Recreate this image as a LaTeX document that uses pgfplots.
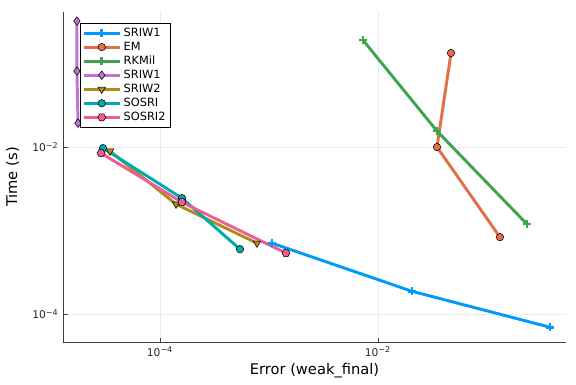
\documentclass[border=0pt]{standalone}
\usepackage{fontspec}
\setmainfont{DejaVu Sans}
\usepackage{pgfplots}
\pgfplotsset{compat=1.18}
\usetikzlibrary{plotmarks}
\definecolor{c1}{HTML}{009AFA}
\definecolor{c2}{HTML}{E36F47}
\definecolor{c3}{HTML}{3EA44E}
\definecolor{c4}{HTML}{C371D2}
\definecolor{c5}{HTML}{AC8E18}
\definecolor{c6}{HTML}{00AAAE}
\definecolor{c7}{HTML}{ED5E93}
\pgfdeclareplotmark{hexagon*}{%
  \pgfpathmoveto{\pgfqpointpolar{0}{\pgfplotmarksize}}%
  \pgfpathlineto{\pgfqpointpolar{60}{\pgfplotmarksize}}%
  \pgfpathlineto{\pgfqpointpolar{120}{\pgfplotmarksize}}%
  \pgfpathlineto{\pgfqpointpolar{180}{\pgfplotmarksize}}%
  \pgfpathlineto{\pgfqpointpolar{240}{\pgfplotmarksize}}%
  \pgfpathlineto{\pgfqpointpolar{300}{\pgfplotmarksize}}%
  \pgfpathclose
  \pgfusepathqfillstroke}
\begin{document}
\begin{tikzpicture}
\begin{axis}[
  name=ax,
  scale only axis,
  width=377pt, height=247.5pt,
  xmode=log, ymode=log,
  xmin=1.29e-5, xmax=0.531,
  ymin=4.62e-5, ymax=0.414,
  axis x line*=bottom, axis y line*=left,
  axis line style={line width=0.6pt, black!75},
  xtick={1e-4,1e-2}, ytick={1e-4,1e-2},
  xticklabels={10\textsuperscript{−4},10\textsuperscript{−2}},
  yticklabels={10\textsuperscript{−4},10\textsuperscript{−2}},
  minor tick num=0,
  minor xtick={}, minor ytick={},
  tick style={black!75, line width=0.5pt},
  major tick length=3.5pt,
  tick label style={font=\fontsize{8}{9}\selectfont, black!85},
  grid=major,
  major grid style={black!8, line width=0.5pt},
  xlabel={Error (weak\_final)},
  ylabel={Time (s)},
  label style={font=\fontsize{11}{13}\selectfont},
  xlabel style={yshift=2pt},
  ylabel style={yshift=3pt},
  legend cell align=left,
  legend style={at={(0.034,0.967)}, anchor=north west, draw=black, line width=0.5pt,
    font=\fontsize{8.5}{9.5}\selectfont, inner sep=1.5pt, row sep=-1.3pt},
  legend image code/.code={%
    \draw[mark repeat=2,mark phase=2] plot coordinates {(0cm,0cm)(0.47cm,0cm)(0.94cm,0cm)};},
  every axis plot/.append style={line width=2.2pt},
]
\addplot[c1, mark=+, mark size=3pt, mark options={line width=2pt}] coordinates {
(1.064e-3,7.08e-4) (2.05e-2,1.88e-4) (0.378,6.98e-5)};
\addlegendentry{SRIW1}
\addplot[c2, mark=*, mark size=2.8pt, mark options={draw=black, fill=c2, line width=0.4pt}] coordinates {
(0.0468,0.1337) (0.0348,0.0100) (0.1315,8.36e-4)};
\addlegendentry{EM}
\addplot[c3, mark=+, mark size=3pt, mark options={line width=2pt}] coordinates {
(7.28e-3,0.191) (0.0348,0.01556) (0.2328,1.197e-3)};
\addlegendentry{RKMil}
\addplot[c4, mark=diamond*, mark size=3.2pt, mark options={draw=black, fill=c4, line width=0.4pt}] coordinates {
(1.73e-5,0.3228) (1.73e-5,0.0813) (1.77e-5,0.01936)};
\addlegendentry{SRIW1}
\addplot[c5, mark=triangle*, mark size=3.2pt, mark options={rotate=180, draw=black, fill=c5, line width=0.4pt}] coordinates {
(3.48e-5,8.95e-3) (1.403e-4,2.075e-3) (7.76e-4,7.08e-4)};
\addlegendentry{SRIW2}
\addplot[c6, mark=*, mark size=2.8pt, mark options={draw=black, fill=c6, line width=0.4pt}] coordinates {
(3.0e-5,9.73e-3) (1.59e-4,2.45e-3) (5.42e-4,6.0e-4)};
\addlegendentry{SOSRI}
\addplot[c7, mark=hexagon*, mark size=3pt, mark options={draw=black, fill=c7, line width=0.4pt}] coordinates {
(2.88e-5,8.47e-3) (1.59e-4,2.19e-3) (1.432e-3,5.38e-4)};
\addlegendentry{SOSRI2}
\end{axis}
\pgfresetboundingbox
\path[use as bounding box] ([shift={(-47.25pt,-31.5pt)}]ax.south west) rectangle ([shift={(7.5pt,9pt)}]ax.north east);
\end{tikzpicture}
\end{document}
